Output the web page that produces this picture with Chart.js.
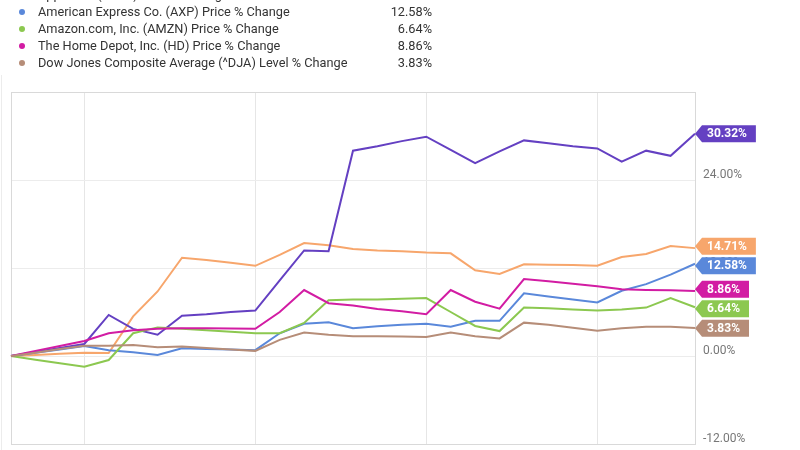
<!DOCTYPE html>
<html>
<head>
<meta charset="utf-8">
<script src="https://cdn.jsdelivr.net/npm/chart.js@4.4.1/dist/chart.umd.min.js"></script>
<style>
  html, body { margin: 0; padding: 0; background: #fff; }
  #wrap { position: relative; width: 800px; height: 450px; overflow: hidden; font-family: Roboto, sans-serif; }
  #chart { position: absolute; left: 0; top: 0; }
  #legend { position: absolute; left: 0; top: 0; width: 450px; }
  .row { position: absolute; left: 0; width: 440px; height: 17px; font-size: 12.75px; color: #333; line-height: 17px; }
  .row .dot { position: absolute; left: 19px; top: 6px; width: 6px; height: 6px; border-radius: 50%; }
  .row .name { position: absolute; left: 38px; top: 0; white-space: nowrap; }
  .row .val { position: absolute; right: 8px; top: 0; }
  #edge { position: absolute; left: 1px; top: 75px; width: 1px; height: 375px; background: #ececec; }
</style>
</head>
<body>
<div id="wrap">
  <div id="edge"></div>
  <canvas id="chart" width="800" height="450"></canvas>
  <div id="legend"></div>
</div>
<script>
// weekly points, labels hidden below the crop
const weeks = ["1", "2", "3", "4", "5", "6", "7", "8", "9", "10", "11", "12", "13", "14", "15",
  "16", "17", "18", "19", "20", "21", "22", "23", "24", "25", "26", "27", "28", "29"];
const gridWeeks = [3, 10, 17, 24];

const seriesNames = [
  "Series % Change",
  "Apple Inc. (AAPL) Price % Change",
  "American Express Co. (AXP) Price % Change",
  "Amazon.com, Inc. (AMZN) Price % Change",
  "The Home Depot, Inc. (HD) Price % Change",
  "Dow Jones Composite Average (^DJA) Level % Change"
];
const seriesColors = ["#f7a66c", "#6440c2", "#5a88da", "#8cc850", "#d21ca3", "#b68d78"];

const orangeVals = [0, 0.15, 0.3, 0.45, 0.4, 5.4, 8.8, 13.4, 13.1, 12.7, 12.3, 13.8, 15.4, 15.1, 14.6,
  14.4, 14.3, 14.1, 14.0, 11.7, 11.2, 12.5, 12.45, 12.4, 12.3, 13.5, 13.9, 15.0, 14.71];
const purpleVals = [0, 0.55, 1.1, 1.64, 5.6, 3.7, 2.9, 5.5, 5.7, 6.0, 6.2, 10.3, 14.4, 14.3, 28.0,
  28.6, 29.3, 29.9, 28.1, 26.3, 27.9, 29.4, 29.0, 28.6, 28.3, 26.5, 28.0, 27.3, 30.32];
const blueVals = [0, 0.45, 0.9, 1.35, 0.8, 0.5, 0.15, 1.05, 0.95, 0.9, 0.8, 3.1, 4.4, 4.6, 3.8,
  4.05, 4.25, 4.4, 4.0, 4.8, 4.8, 8.55, 8.1, 7.7, 7.3, 8.9, 9.8, 11.1, 12.58];
const greenVals = [0, -0.5, -1.0, -1.45, -0.55, 3.1, 3.9, 3.7, 3.5, 3.3, 3.1, 3.1, 4.5, 7.6, 7.7,
  7.7, 7.8, 7.9, 6.0, 4.1, 3.4, 6.6, 6.5, 6.35, 6.2, 6.35, 6.6, 7.9, 6.64];
const magentaVals = [0, 0.7, 1.35, 2.05, 3.1, 3.5, 3.7, 3.8, 3.8, 3.75, 3.7, 6.0, 9.0, 7.2, 6.9,
  6.4, 6.1, 5.7, 9.0, 7.4, 6.45, 10.5, 10.2, 9.85, 9.5, 9.1, 9.0, 8.95, 8.86];
const brownVals = [0, 0.45, 0.95, 1.4, 1.4, 1.5, 1.2, 1.3, 1.1, 0.9, 0.7, 2.2, 3.2, 2.9, 2.7,
  2.7, 2.65, 2.6, 3.2, 2.7, 2.4, 4.55, 4.25, 3.85, 3.45, 3.8, 4.0, 4.0, 3.83];

const yTicks = [-12, 0, 12, 24];
const allVals = [orangeVals, purpleVals, blueVals, greenVals, magentaVals, brownVals];

// legend rows (top of the legend is cut off in the picture)
const legend = document.getElementById("legend");
seriesNames.forEach(function (name, i) {
  const vals = allVals[i];
  const row = document.createElement("div");
  row.className = "row";
  row.style.top = (-31 + i * 17) + "px";
  row.innerHTML = '<span class="dot" style="background:' + seriesColors[i] + '"></span>' +
    '<span class="name">' + name + '</span>' +
    '<span class="val">' + vals[vals.length - 1].toFixed(2) + '%</span>';
  legend.appendChild(row);
});

const frame = {
  id: "frame",
  beforeDatasetsDraw(chart) {
    const a = chart.chartArea, ctx = chart.ctx;
    ctx.save();
    ctx.strokeStyle = "#d9d9d9";
    ctx.lineWidth = 1;
    ctx.strokeRect(Math.round(a.left) + 0.5, Math.round(a.top) + 0.5,
      Math.round(a.right - a.left), Math.round(a.bottom - a.top));
    // y tick labels, sitting a little above their grid lines
    const y = chart.scales.y;
    ctx.fillStyle = "#777";
    ctx.font = "12px Roboto";
    ctx.textBaseline = "middle";
    yTicks.forEach(function (v) {
      ctx.fillText(v.toFixed(2) + "%", a.right + 8, y.getPixelForValue(v) - 5);
    });
    ctx.restore();
  }
};

const flags = {
  id: "flags",
  afterDatasetsDraw(chart) {
    const ctx = chart.ctx, a = chart.chartArea;
    const items = chart.data.datasets.map(function (ds, i) {
      const meta = chart.getDatasetMeta(i);
      const pt = meta.data[meta.data.length - 1];
      return { y: pt.y, text: ds.data[ds.data.length - 1].toFixed(2) + "%", color: ds.borderColor };
    }).sort(function (p, q) { return p.y - q.y; });
    const gap = 19.5;
    for (let k = 0; k < 60; k++) {
      for (let j = 1; j < items.length; j++) {
        const d = items[j].y - items[j - 1].y;
        if (d < gap) {
          const o = (gap - d) / 2;
          items[j - 1].y -= o;
          items[j].y += o;
        }
      }
    }
    ctx.save();
    ctx.font = "bold 12px Roboto";
    ctx.textBaseline = "middle";
    items.forEach(function (it) {
      const x0 = a.right, h = 8.5;
      const tw = ctx.measureText(it.text).width;
      const x1 = x0 + 12 + tw + 9;
      ctx.fillStyle = it.color;
      ctx.beginPath();
      ctx.moveTo(x0, it.y);
      ctx.lineTo(x0 + 7, it.y - h);
      ctx.lineTo(x1, it.y - h);
      ctx.lineTo(x1, it.y + h);
      ctx.lineTo(x0 + 7, it.y + h);
      ctx.closePath();
      ctx.fill();
      ctx.fillStyle = "#fff";
      ctx.fillText(it.text, x0 + 12, it.y + 0.5);
    });
    ctx.restore();
  }
};

new Chart(document.getElementById("chart"), {
  type: "line",
  data: {
    labels: weeks,
    datasets: allVals.map(function (vals, i) {
      return {
        label: seriesNames[i],
        data: vals,
        borderColor: seriesColors[i],
        borderWidth: 2,
        pointRadius: 0,
        tension: 0,
        fill: false
      };
    }).reverse()
  },
  options: {
    responsive: false,
    animation: false,
    layout: { padding: { left: 11, top: 92, right: 0, bottom: 0 } },
    plugins: { legend: { display: false }, tooltip: { enabled: false } },
    scales: {
      x: {
        offset: false,
        ticks: { display: false, autoSkip: false },
        border: { display: false },
        grid: {
          drawTicks: false,
          color: function (c) { return gridWeeks.indexOf(c.index) >= 0 ? "#e6e6e6" : "rgba(0,0,0,0)"; }
        },
        afterFit: function (s) { s.height = 6; }
      },
      y: {
        position: "right",
        min: -12,
        max: 36,
        ticks: { display: false, stepSize: 12 },
        border: { display: false },
        grid: { drawTicks: false, color: "#ececec" },
        afterFit: function (s) { s.width = 105; }
      }
    }
  },
  plugins: [frame, flags]
});
</script>
</body>
</html>
